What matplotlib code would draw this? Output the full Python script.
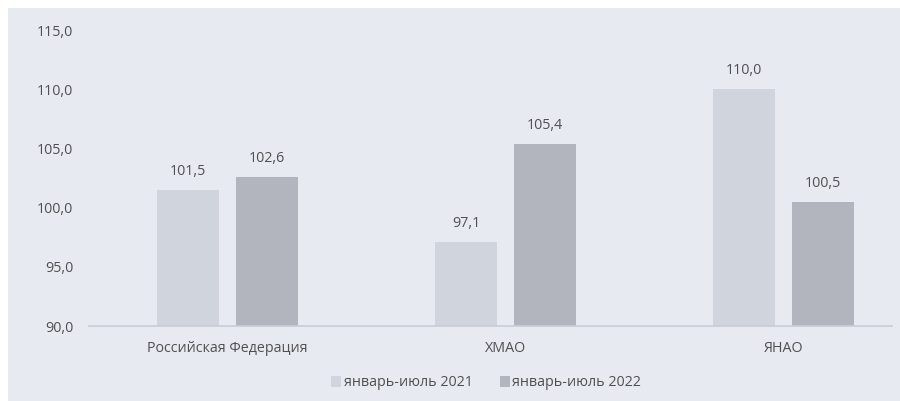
import matplotlib.pyplot as plt
import matplotlib.patches as mpatches
import numpy as np

plt.rcParams['font.family'] = ['Open Sans', 'DejaVu Sans']

categories = ["Российская Федерация", "ХМАО", "ЯНАО"]
series_names = ["январь-июль 2021", "январь-июль 2022"]
vals_2021 = [101.5, 97.1, 110.0]
vals_2022 = [102.6, 105.4, 100.5]
yticks = [90, 95, 100, 105, 110, 115]

bg = "#e8eaf2"
c_light = "#d0d4dc"
c_dark = "#b2b5bd"
txt = "#505050"
fs = 10.3

fig = plt.figure(figsize=(9, 4.01), dpi=100, facecolor="white")
# chart background, with a thin white margin at top and left
fig.patches.append(mpatches.Rectangle((8 / 900, 0), 1 - 8 / 900, 1 - 8 / 401,
                                      transform=fig.transFigure, facecolor=bg,
                                      edgecolor="none", zorder=-10))
ax = fig.add_axes([89 / 900, 75 / 401, 803 / 900, 296 / 401])
ax.set_facecolor("none")

x = np.arange(len(categories))
w = 0.223
off = 0.142
b1 = ax.bar(x - off, np.array(vals_2021) - 90, w, bottom=90, color=c_light, label=series_names[0])
b2 = ax.bar(x + off, np.array(vals_2022) - 90, w, bottom=90, color=c_dark, label=series_names[1])

for bars, vals in ((b1, vals_2021), (b2, vals_2022)):
    for rect, v in zip(bars, vals):
        ax.annotate(f"{v:.1f}".replace(".", ","),
                    (rect.get_x() + rect.get_width() / 2, v),
                    xytext=(0, 8), textcoords="offset points",
                    ha="center", va="bottom", fontsize=fs, color=txt)

ax.set_ylim(90, 115)
ax.set_xlim(-0.498, 2.39)
ax.set_yticks(yticks)
ax.set_yticklabels([f"{t:.1f}".replace(".", ",") for t in yticks])
ax.set_xticks(x)
ax.set_xticklabels(categories)
ax.tick_params(axis="y", length=0, pad=11.5, labelsize=fs, labelcolor=txt)
ax.tick_params(axis="x", length=0, pad=11, labelsize=fs, labelcolor=txt)

for s in ("top", "right", "left"):
    ax.spines[s].set_visible(False)
ax.spines["bottom"].set_color("#c9ccd6")
ax.spines["bottom"].set_linewidth(1.2)

fig.legend(loc="center", bbox_to_anchor=(486 / 900, 1 - 383 / 401), ncol=2,
           frameon=False, fontsize=fs, labelcolor=txt, handlelength=0.7,
           handleheight=0.7, handletextpad=0.2, columnspacing=1.9)

fig.savefig("out.png", dpi=100, facecolor="white")
